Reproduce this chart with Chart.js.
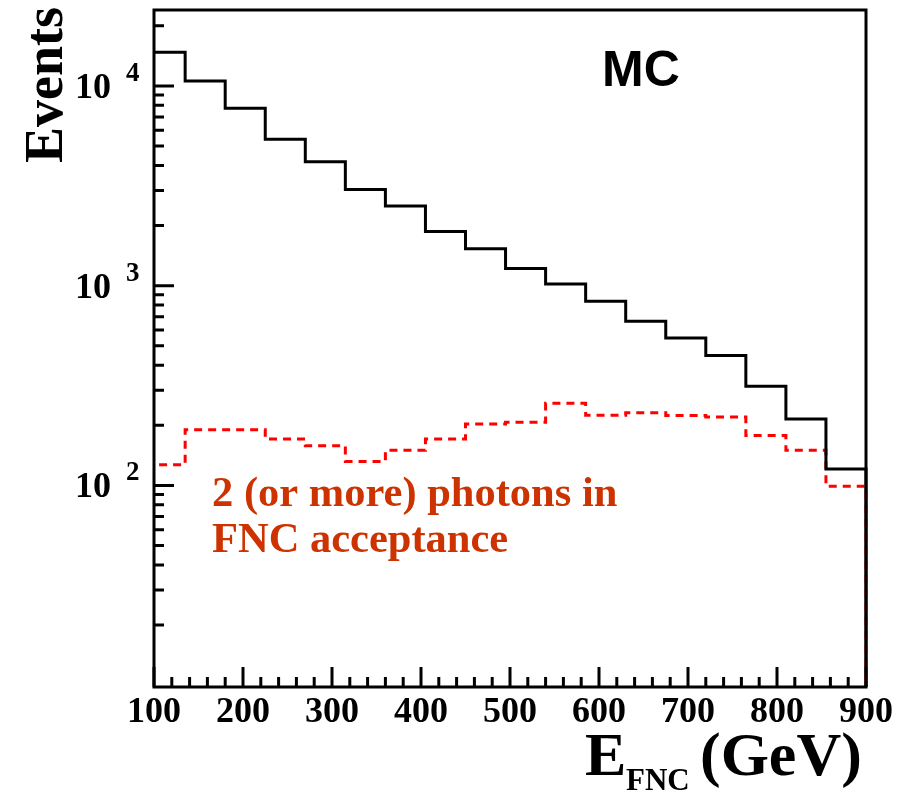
<!DOCTYPE html>
<html>
<head>
<meta charset="utf-8">
<title>E_FNC spectrum (MC)</title>
<script src="https://cdn.jsdelivr.net/npm/chart.js@4.4.0/dist/chart.umd.min.js"></script>
<style>
    html, body { margin: 0; padding: 0; background: #ffffff; }
    canvas { display: block; }
</style>
</head>
<body>
<canvas id="spectrumChart" width="899" height="790"></canvas>
<script>
// Bin lower edges in GeV (45 GeV wide, last bin closes at 900)
const binLow = [90, 135, 180, 225, 270, 315, 360, 405, 450, 495, 540, 585, 630, 675, 720, 765, 810, 855];
const binEnd = 900;

// MC, all events
const allEvents = [14750, 10600, 7730, 5410, 4180, 3030, 2510, 1870, 1530, 1220, 1020, 835, 663, 548, 447, 314, 215, 121];

// MC, 2 (or more) photons in FNC acceptance
const twoPhotonEvents = [127, 190, 190, 171, 158, 132, 150, 171, 203, 207, 258, 225, 231, 224, 220, 178, 150, 99];

// Axis ranges and tick labels
const xMin = 100, xMax = 900;
const yMin = 9.8, yMax = 24000;
const xTickValues = [100, 200, 300, 400, 500, 600, 700, 800, 900];
const yTickValues = [100, 1000, 10000];

const serif = '"Liberation Serif", "DejaVu Serif", serif';
const sans = '"Liberation Sans", Arial, sans-serif';

// Turn bin contents into step points (closing edge drops to the floor)
function histogramPoints(values) {
    const pts = values.map((v, i) => ({ x: binLow[i], y: v }));
    pts.push({ x: binEnd, y: values[values.length - 1] });
    pts.push({ x: binEnd, y: yMin });
    return pts;
}

// ROOT-like frame with inward ticks
function drawFrame(chart) {
    const ctx = chart.ctx;
    const area = chart.chartArea;
    const xs = chart.scales.x;
    const ys = chart.scales.y;

    ctx.save();
    ctx.strokeStyle = '#000';
    ctx.lineWidth = 3;
    ctx.strokeRect(area.left, area.top, area.right - area.left, area.bottom - area.top);

    ctx.beginPath();
    // x ticks every 20 GeV, long ones at the labels
    for (let v = xMin; v <= xMax; v += 20) {
        const x = xs.getPixelForValue(v);
        const len = v % 100 === 0 ? 20 : 10;
        ctx.moveTo(x, area.bottom);
        ctx.lineTo(x, area.bottom - len);
    }
    // y ticks, 2..9 inside each decade
    for (let d = 1; d <= 4; d++) {
        for (let m = 1; m <= 9; m++) {
            const v = m * Math.pow(10, d);
            if (v <= yMin * 1.05 || v >= yMax) continue;
            const y = ys.getPixelForValue(v);
            const len = m === 1 ? 20 : 10;
            ctx.moveTo(area.left, y);
            ctx.lineTo(area.left + len, y);
        }
    }
    ctx.stroke();
    ctx.restore();
}

function drawLabels(chart) {
    const ctx = chart.ctx;
    const xs = chart.scales.x;
    const ys = chart.scales.y;

    ctx.save();
    ctx.fillStyle = '#000';
    ctx.textBaseline = 'alphabetic';

    // x tick labels
    ctx.font = 'bold 36px ' + serif;
    ctx.textAlign = 'center';
    xTickValues.forEach(v => {
        ctx.fillText(String(v), xs.getPixelForValue(v), 722);
    });

    // y tick labels as 10^n
    yTickValues.forEach(v => {
        const y = ys.getPixelForValue(v);
        ctx.font = 'bold 36px ' + serif;
        ctx.textAlign = 'right';
        ctx.fillText('10', 111, y + 12);
        ctx.font = 'bold 27px ' + serif;
        ctx.textAlign = 'left';
        ctx.fillText(String(Math.round(Math.log10(v))), 126, y - 5);
    });

    // y title
    ctx.save();
    ctx.translate(62, 85);
    ctx.rotate(-Math.PI / 2);
    ctx.font = 'bold 54px ' + serif;
    ctx.textAlign = 'center';
    ctx.fillText('Events', 0, 0);
    ctx.restore();

    // x title: E_FNC (GeV)
    ctx.textAlign = 'left';
    ctx.font = 'bold 62px ' + serif;
    ctx.fillText('E', 585, 775);
    ctx.font = 'bold 31px ' + serif;
    ctx.fillText('FNC', 626, 790);
    ctx.font = 'bold 62px ' + serif;
    ctx.fillText('(GeV)', 700, 775);

    // MC tag
    ctx.font = 'bold 50px ' + sans;
    ctx.fillText('MC', 602, 86);

    // annotation for the red histogram
    ctx.fillStyle = '#cc3300';
    ctx.font = 'bold 42.5px ' + serif;
    ctx.fillText('2 (or more) photons in', 212, 506);
    ctx.fillText('FNC acceptance', 212, 552);
    ctx.restore();
}

const rootStyle = {
    id: 'rootStyle',
    beforeDatasetsDraw(chart) {
        drawFrame(chart);
    },
    afterDraw(chart) {
        drawLabels(chart);
    }
};

const ctx = document.getElementById('spectrumChart').getContext('2d');
new Chart(ctx, {
    type: 'line',
    data: {
        datasets: [
            {
                label: 'MC',
                data: histogramPoints(allEvents),
                borderColor: '#000000',
                borderWidth: 3,
                stepped: true,
                pointRadius: 0,
                fill: false,
                clip: { left: 0, top: 0, right: 3, bottom: 0 }
            },
            {
                label: '2 (or more) photons in FNC acceptance',
                data: histogramPoints(twoPhotonEvents),
                borderColor: '#ff0000',
                borderWidth: 3,
                borderDash: [8, 6],
                stepped: true,
                pointRadius: 0,
                fill: false,
                clip: { left: 0, top: 0, right: 3, bottom: 0 }
            }
        ]
    },
    options: {
        responsive: false,
        animation: false,
        layout: {
            padding: { left: 154, right: 33, top: 10, bottom: 103 }
        },
        plugins: {
            legend: { display: false },
            tooltip: { enabled: false }
        },
        scales: {
            x: { type: 'linear', min: xMin, max: xMax, display: false },
            y: { type: 'logarithmic', min: yMin, max: yMax, display: false }
        }
    },
    plugins: [rootStyle]
});
</script>
</body>
</html>
